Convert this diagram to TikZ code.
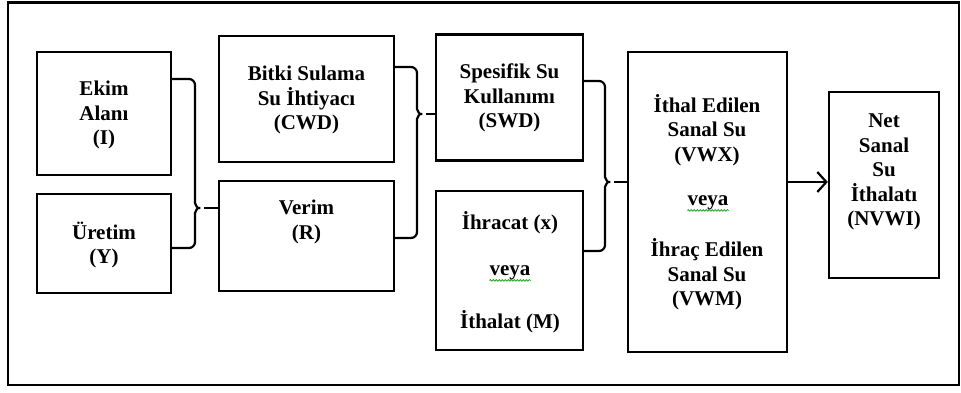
\documentclass[tikz,border=0pt]{standalone}
\usepackage{fontspec}
\setmainfont{Liberation Serif}
\usetikzlibrary{arrows.meta,decorations.pathmorphing}
\begin{document}
\begin{tikzpicture}[x=1pt,y=-1pt,
  box/.style={draw,line width=2.4pt,inner sep=0pt},
  lbl/.style={align=center,inner sep=0pt,font=\fontsize{21}{24.5}\selectfont\bfseries},
  brace/.style={line width=2.2pt,rounded corners=6pt},
  conn/.style={line width=2.2pt},
  spell/.style={draw=green!60!black,line width=0.7pt,decorate,decoration={snake,amplitude=0.8pt,segment length=3pt}}]
\useasboundingbox (0,0) rectangle (961,392);
\draw[line width=2.2pt] (8,2.5) rectangle (959,385);
% boxes
\node[box,minimum width=134pt,minimum height=123pt] (ekim) at (104,113.5) {};
\node[box,minimum width=134pt,minimum height=99pt] (uretim) at (104,243.5) {};
\node[box,minimum width=175pt,minimum height=126pt] (bitki) at (306.5,99) {};
\node[box,minimum width=175pt,minimum height=110pt] (verim) at (306.5,236) {};
\node[box,minimum width=147pt,minimum height=126pt] (spes) at (509.5,97.5) {};
\node[box,minimum width=147pt,minimum height=159pt] (ihr) at (509.5,270.5) {};
\node[box,minimum width=159pt,minimum height=300pt] (ithal) at (707.5,202) {};
\node[box,minimum width=110pt,minimum height=186pt] (net) at (884,185) {};
% texts
\node[lbl] (tekim) at (104,115) {Ekim\\Alanı\\(I)};
\node[lbl] (turetim) at (104,245) {Üretim\\(Y)};
\node[lbl] (tbitki) at (306.5,100) {Bitki Sulama\\Su İhtiyacı\\(CWD)};
\node[lbl] (tverim) at (306.5,222) {Verim\\(R)};
\node[lbl] (tspes) at (509.5,98) {Spesifik Su\\Kullanımı\\(SWD)};
\node[lbl] (tihr1) at (510,223) {İhracat (x)};
\node[lbl] (tihrv) at (510,273) {veya};
\node[lbl] (tihr2) at (510,322) {İthalat (M)};
\node[lbl] (tith1) at (707,130) {İthal Edilen\\Sanal Su\\(VWX)};
\node[lbl] (tithv) at (708,203) {veya};
\node[lbl] (tith2) at (707,274.5) {İhraç Edilen\\Sanal Su\\(VWM)};
\node[lbl] (tnet) at (884,172) {Net\\Sanal\\Su\\İthalatı\\(NVWI)};
\draw[spell] (tihrv.south west) -- (tihrv.south east);
\draw[spell] (tithv.south west) -- (tithv.south east);
% braces
\coordinate (b1tip) at (204,208);
\coordinate (b2tip) at (426,114);
\coordinate (b3tip) at (614,182);
\draw[brace] (ekim.east |- 0,79) -| (195,197) .. controls (195,205) and (198,208) .. (b1tip)
  .. controls (198,208) and (195,211) .. (195,219) |- (uretim.east |- 0,248);
\draw[conn] (b1tip) -- (b1tip -| verim.west);
\draw[brace] (bitki.east |- 0,67) -| (417,103) .. controls (417,111) and (420,114) .. (b2tip)
  .. controls (420,114) and (417,117) .. (417,125) |- (verim.east |- 0,238);
\draw[conn] (b2tip) -- (b2tip -| spes.west);
\draw[brace] (spes.east |- 0,81) -| (605,171) .. controls (605,179) and (608,182) .. (b3tip)
  .. controls (608,182) and (605,185) .. (605,193) |- (ihr.east |- 0,251);
\draw[conn] (b3tip) -- (b3tip -| ithal.west);
\draw[conn,-{Straight Barb[length=9pt,width=20pt,line width=2.2pt]}] (ithal.east |- b3tip) -- (net.west |- b3tip);
\end{tikzpicture}
\end{document}
